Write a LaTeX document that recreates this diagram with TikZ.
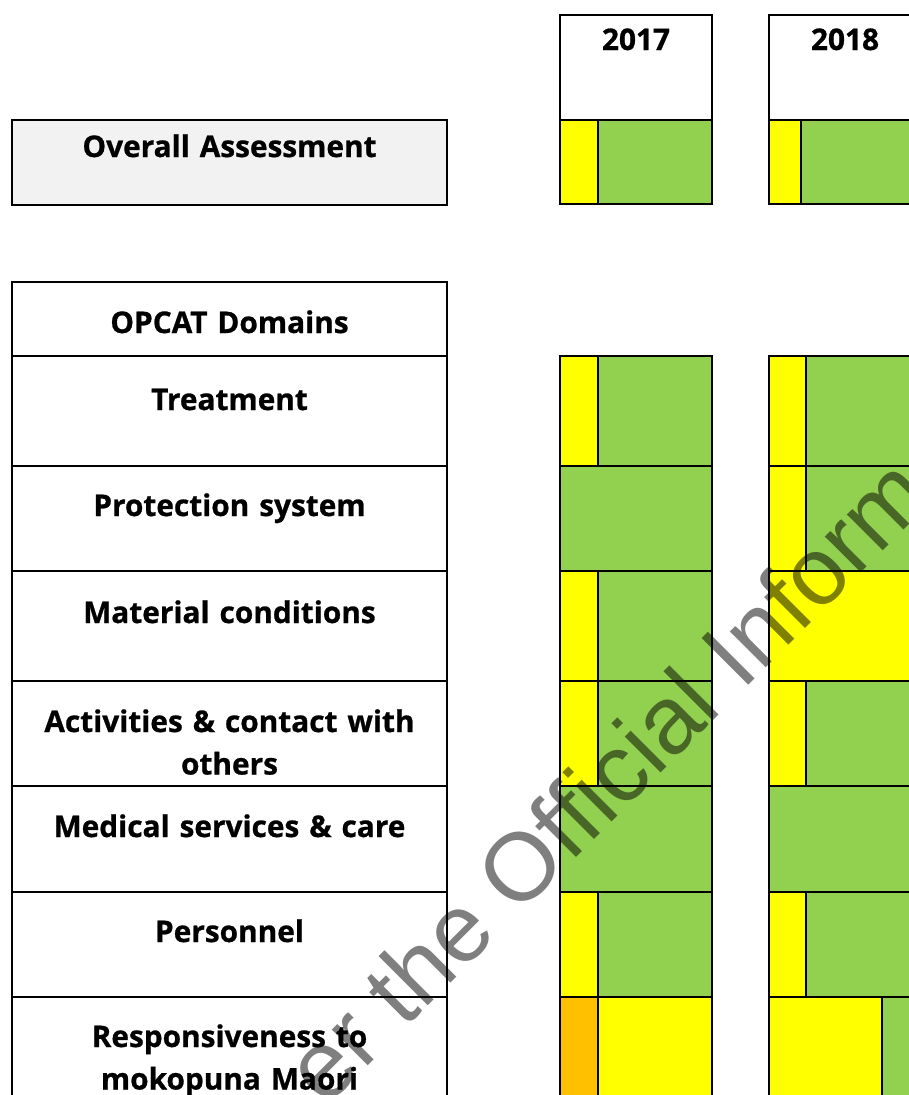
\documentclass[tikz,border=0pt]{standalone}
\usepackage{fontspec}
\setmainfont{Open Sans}[BoldFeatures={FakeBold=0.8}]
\newfontfamily\wmfont{Liberation Sans}
\definecolor{cgreen}{HTML}{92D050}
\definecolor{cyellow}{HTML}{FFFF00}
\definecolor{corange}{HTML}{FFC000}
\definecolor{cgray}{HTML}{F2F2F2}
\tikzset{
  cell/.style={draw=black, line width=2.5pt},
  lbl/.style={inner sep=0pt, anchor=base, text width=430pt, align=center,
    font=\bfseries\fontsize{29.8}{42.5}\selectfont},
  wm/.style={inner sep=0pt, anchor=base west, rotate=45, text=black, text opacity=0.5,
    font=\wmfont\fontsize{96}{110}\selectfont}
}
\begin{document}
\begin{tikzpicture}[x=1pt,y=-1pt]
\useasboundingbox (0,0) rectangle (909,1095);
% left column
\draw[cell, fill=cgray] (12,120) rectangle (447,205);
\draw[cell] (12,282) rectangle (447,356);
\foreach \a/\b in {356/466,466/571,571/681,681/786,786/892,892/997,997/1120}
  \draw[cell] (12,\a) rectangle (447,\b);
\node[lbl] (ov) at (229.5,157) {Overall Assessment};
\node[lbl] (op) at (229.5,333) {OPCAT Domains};
\node[lbl] (tr) at (229.5,410) {Treatment};
\node[lbl] (pr) at (229.5,516) {Protection system};
\node[lbl] (ma) at (229.5,623) {Material conditions};
\node[lbl] (ac) at (229.5,732) {Activities \& contact with\\others};
\node[lbl] (me) at (229.5,837) {Medical services \& care};
\node[lbl] (pe) at (229.5,942) {Personnel};
\node[lbl] (re) at (229.5,1047) {Responsiveness to\\mokopuna Maori};
% 2017 column
\draw[cell] (560,15) rectangle (712,120);
\draw[cell, fill=cyellow] (560,120) rectangle (598,204);
\draw[cell, fill=cgreen] (598,120) rectangle (712,204);
\node[lbl, text width=150pt] (y17) at (636,50) {2017};
% 2017 domains
\draw[cell, fill=cyellow] (560,356) rectangle (598,466);
\draw[cell, fill=cgreen] (598,356) rectangle (712,466);
\draw[cell, fill=cgreen] (560,466) rectangle (712,571);
\draw[cell, fill=cyellow] (560,571) rectangle (598,681);
\draw[cell, fill=cgreen] (598,571) rectangle (712,681);
\draw[cell, fill=cyellow] (560,681) rectangle (598,786);
\draw[cell, fill=cgreen] (598,681) rectangle (712,786);
\draw[cell, fill=cgreen] (560,786) rectangle (712,892);
\draw[cell, fill=cyellow] (560,892) rectangle (598,997);
\draw[cell, fill=cgreen] (598,892) rectangle (712,997);
\draw[cell, fill=corange] (560,997) rectangle (598,1120);
\draw[cell, fill=cyellow] (598,997) rectangle (712,1120);
% 2018 column
\draw[cell] (769,15) rectangle (921,120);
\draw[cell, fill=cyellow] (769,120) rectangle (801,204);
\draw[cell, fill=cgreen] (801,120) rectangle (921,204);
\node[lbl, text width=150pt] (y18) at (845,50) {2018};
% 2018 domains
\draw[cell, fill=cyellow] (769,356) rectangle (806,466);
\draw[cell, fill=cgreen] (806,356) rectangle (921,466);
\draw[cell, fill=cyellow] (769,466) rectangle (806,571);
\draw[cell, fill=cgreen] (806,466) rectangle (921,571);
\draw[cell, fill=cyellow] (769,571) rectangle (921,681);
\draw[cell, fill=cyellow] (769,681) rectangle (806,786);
\draw[cell, fill=cgreen] (806,681) rectangle (921,786);
\draw[cell, fill=cgreen] (769,786) rectangle (921,892);
\draw[cell, fill=cyellow] (769,892) rectangle (806,997);
\draw[cell, fill=cgreen] (806,892) rectangle (921,997);
\draw[cell, fill=cyellow] (769,997) rectangle (882,1120);
\draw[cell, fill=cgreen] (882,997) rectangle (921,1120);
% watermark
\node[wm] (wmk) at (325.2,1108.8) {er the Official Inform};
\end{tikzpicture}
\end{document}
